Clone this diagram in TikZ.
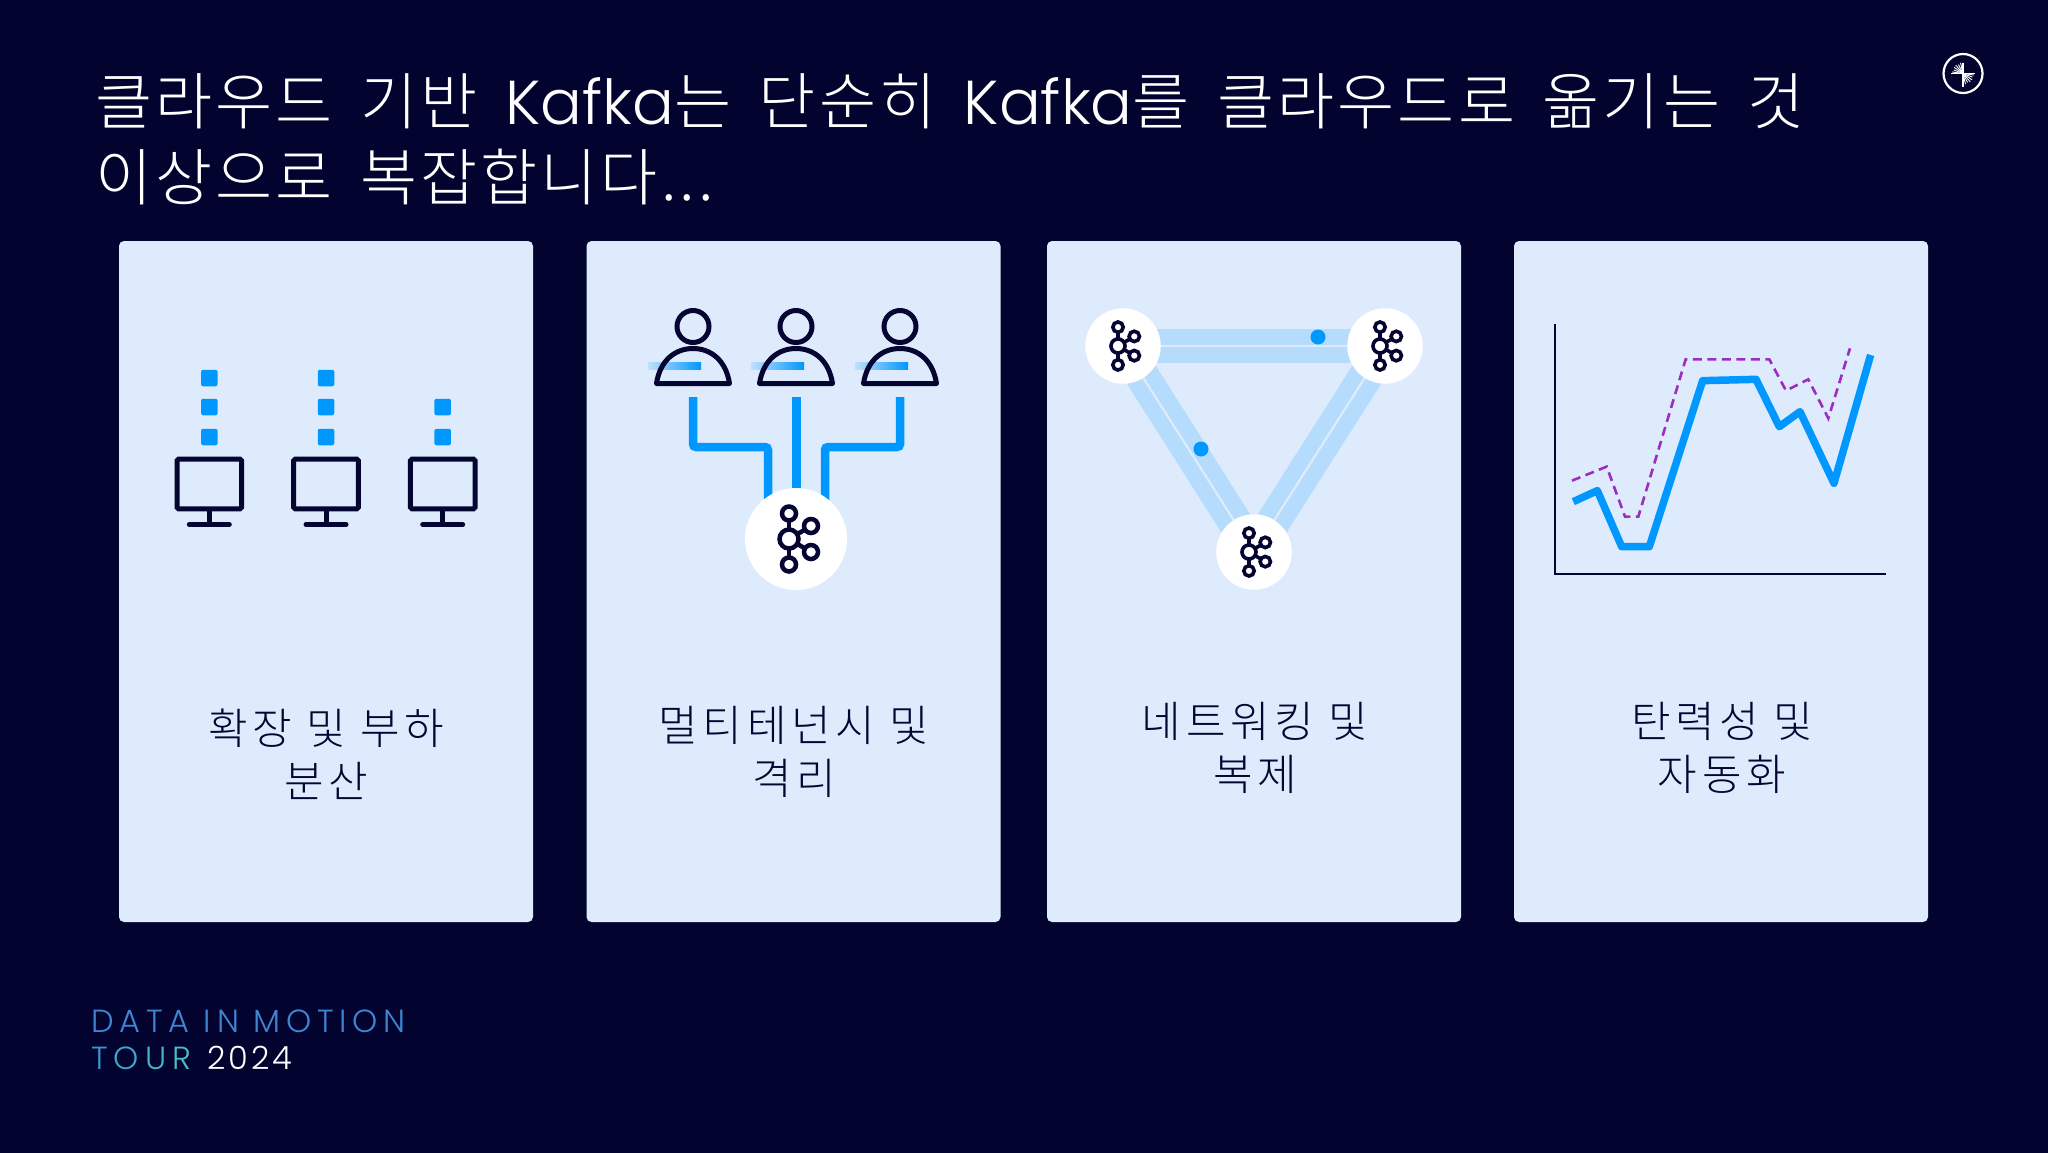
\documentclass[tikz,border=0pt]{standalone}
\usepackage{fontspec}
\setmainfont{Poppins}[UprightFont=* Light]
\newfontfamily\cjk{Noto Sans CJK KR}[UprightFont=* Light,LetterSpace=5,WordSpace=1.65]
\newfontfamily\cjklabel{Noto Sans CJK KR}[UprightFont=* Light,LetterSpace=11]
\newfontfamily\footfont{Poppins}[UprightFont=* Light,LetterSpace=18]
\newfontfamily\footdigits{Poppins}[UprightFont=* Light,LetterSpace=9]
\usetikzlibrary{calc}
\pgfdeclarelayer{cards}
\pgfdeclarelayer{links}
\pgfsetlayers{cards,links,main}
\definecolor{bgnavy}{HTML}{02042F}
\definecolor{cardfill}{HTML}{DEEBFD}
\definecolor{skyblue}{HTML}{0097FF}
\definecolor{bandblue}{HTML}{B5DCFC}
\definecolor{inkn}{HTML}{040531}
\definecolor{plum}{HTML}{9B2DC0}
\definecolor{footblue}{HTML}{3F85D6}
\definecolor{tealA}{HTML}{3A94D0}
\definecolor{tealB}{HTML}{3CA6CC}
\definecolor{tealC}{HTML}{40B6C8}
\definecolor{tealD}{HTML}{45C0C2}
\newcommand{\tourletter}[2]{\textcolor{#1}{#2}\kern6pt\relax}
\tikzset{
  x=1pt,y=-1pt,
  cardbox/.style={fill=cardfill,rounded corners=5pt,minimum width=414pt,minimum height=681pt,inner sep=0pt,draw=none},
  titletext/.style={text=white,anchor=base west,inner sep=0pt,font=\cjk\fontsize{62}{62}\selectfont},
  cardlabel/.style={text=inkn,align=center,anchor=center,inner sep=0pt,font=\cjklabel\fontsize{43}{53}\selectfont},
  foottext/.style={anchor=base west,inner sep=0pt,font=\footfont\fontsize{32}{32}\selectfont},
  whitedisc/.style={circle,fill=white,inner sep=0pt,draw=none},
  dotsq/.style={fill=skyblue,rounded corners=2pt,minimum size=16.5pt,inner sep=0pt,draw=none},
  repdot/.style={circle,fill=skyblue,minimum size=15pt,inner sep=0pt,draw=none},
  flow/.style={draw=skyblue,line width=8.5pt,rounded corners=3pt},
  band/.style={draw=bandblue,line width=34pt},
  bandline/.style={draw=cardfill,line width=2.2pt},
  pics/kafka/.style={code={
    \begin{scope}[draw=inkn,fill=none]
      \draw (0,-26) -- (0,26);
      \draw (0,0) -- (22,-13) (0,0) -- (22,13);
      \draw[fill=white] (0,0) circle (9.5);
      \draw[fill=white] (0,-25.5) circle (7);
      \draw[fill=white] (0,25.5) circle (7);
      \draw[fill=white] (22,-13) circle (7);
      \draw[fill=white] (22,13) circle (7);
    \end{scope}}},
  pics/monitor/.style={code={
    \draw[inkn,line width=5pt,rounded corners=1.5pt] (-32.3,-24.8) rectangle (32.3,24.8);
    \draw[inkn,line width=5pt] (0,25) -- (0,40);
    \draw[inkn,line width=5pt,line cap=round] (-20,40.5) -- (20,40.5);}},
  pics/person/.style={code={
    \shade[left color=bandblue!70!cardfill,right color=skyblue] (-45,35.5) rectangle (8,42.5);
    \draw[inkn,line width=5pt] (0,0) circle (16);
    \draw[inkn,line width=5pt,line join=round] (-36.5,57) .. controls (-33,34) and (-18,22) .. (0,22) .. controls (18,22) and (33,34) .. (36.5,57) -- cycle;}}
}
\begin{document}
\begin{tikzpicture}
\useasboundingbox (0,0) rectangle (2048,1152);

% background and cards
\begin{pgfonlayer}{cards}
\fill[bgnavy] (-6,-6) rectangle (2054,1158);
\node[cardbox] (c1) at (326,581.5) {};
\node[cardbox] (c2) at (793.5,581.5) {};
\node[cardbox] (c3) at (1254,581.5) {};
\node[cardbox] (c4) at (1721,581.5) {};
\end{pgfonlayer}

% title
\node[titletext] (t1) at (95,124) {클라우드 기반 {\rmfamily Kafka}는 단순히 {\rmfamily Kafka}를 클라우드로 옮기는 것};
\node[titletext] (t2) at (95,200) {이상으로 복잡합니다...};

% logo
\node[circle,draw=white,line width=2.2pt,minimum size=39pt,inner sep=0pt] (logo) at (1963,73.5) {};
\draw[white,line width=1.2pt] ($(logo.center)+(0,-11)$) -- ($(logo.center)+(0,13)$);
\draw[white,line width=1.2pt] ($(logo.center)+(-12,0)$) -- ($(logo.center)+(12,0)$);
\foreach \a/\l in {103/11,117/10,131/11,145/11,159/10,172/11}{
  \draw[white,line width=.9pt] (logo.center) -- ++({\l*cos(\a)},{-\l*sin(\a)});
  \draw[white,line width=.9pt] (logo.center) -- ++({-\l*cos(\a)},{\l*sin(\a)});
}

% card 1
\foreach \n/\x in {a/209.3,b/326,c/442.7}{
  \pic at (\x,484) {monitor};
  \node[dotsq] (sq\n1) at (\x,437) {};
  \node[dotsq] (sq\n2) at (\x,407) {};
}
\node[dotsq] (sqa3) at (209.3,378) {};
\node[dotsq] (sqb3) at (326,378) {};

% card 2
\foreach \x in {693,796,900}{
  \pic at (\x,326.5) {person};
}
\coordinate (pa) at (693,397);
\coordinate (pb) at (796.5,397);
\coordinate (pc) at (900,397);
\node[whitedisc,minimum size=102pt] (k0) at (796,539) {};
\begin{pgfonlayer}{links}
\draw[flow] (pa) |- ($(k0.center)+(-28,-92)$) -- ($(k0.center)+(-28,0)$);
\draw[flow] (pb) -- ($(k0.center)+(.5,0)$);
\draw[flow] (pc) |- ($(k0.center)+(29,-92)$) -- ($(k0.center)+(29,0)$);
\end{pgfonlayer}
\pic[line width=4.5pt] at ($(k0.center)+(-7,0)$) {kafka};

% card 3
\node[whitedisc,minimum size=75.5pt] (k1) at (1123,346) {};
\node[whitedisc,minimum size=75.5pt] (k2) at (1385,346) {};
\node[whitedisc,minimum size=75.5pt] (k3) at (1254,552) {};
\begin{pgfonlayer}{links}
\draw[band] (k1.center) -- (k2.center);
\draw[band] (k1.center) -- (k3.center);
\draw[band] (k2.center) -- (k3.center);
\draw[bandline] (k1.center) -- (k2.center);
\draw[bandline] (k1.center) -- (k3.center);
\draw[bandline] (k2.center) -- (k3.center);
\end{pgfonlayer}
\pic[scale=.74,line width=3.6pt] at ($(k1.center)+(-5,0)$) {kafka};
\pic[scale=.74,line width=3.6pt] at ($(k2.center)+(-5,0)$) {kafka};
\pic[scale=.74,line width=3.6pt] at ($(k3.center)+(-5,0)$) {kafka};
\node[repdot] (d1) at (1318,337) {};
\node[repdot] (d2) at (1201,449) {};

% card 4
\draw[inkn,line width=2pt] (1555.3,324) -- (1555.3,574) -- (1886,574);
\begin{scope}[shift={(1510,240)},x=0.3333pt,y=-0.3333pt]
\draw[plum,line width=2.6pt,dash pattern=on 9pt off 5.5pt]
 (186,722) -- (290,680) -- (345,830) -- (385,830) -- (527,358) -- (778,358) -- (828,452) -- (895,418) -- (955,535) -- (1020,325);
\draw[skyblue,line width=7.5pt,line join=round]
 (190,785) -- (262,752) -- (335,920) -- (418,920) -- (578,422) -- (738,418) -- (808,560) -- (870,515) -- (972,730) -- (1082,345);
\end{scope}

% labels
\node[cardlabel] (l1) at (326,754) {확장 및 부하\\분산};
\node[cardlabel] (l2) at (794,752) {멀티테넌시 및\\격리};
\node[cardlabel] (l3) at (1255,748) {네트워킹 및\\복제};
\node[cardlabel] (l4) at (1722,748) {탄력성 및\\자동화};

% footer
\node[foottext,text=footblue] (f1) at (91,1032) {DATA IN MOTION};
\node[foottext] (f2) at (91,1069) {\tourletter{tealA}{T}\tourletter{tealB}{O}\tourletter{tealC}{U}\tourletter{tealD}{R}\hspace{10.5pt}{\footdigits\fontsize{32}{32}\selectfont\textcolor{white}{2024}}};
\end{tikzpicture}
\end{document}
